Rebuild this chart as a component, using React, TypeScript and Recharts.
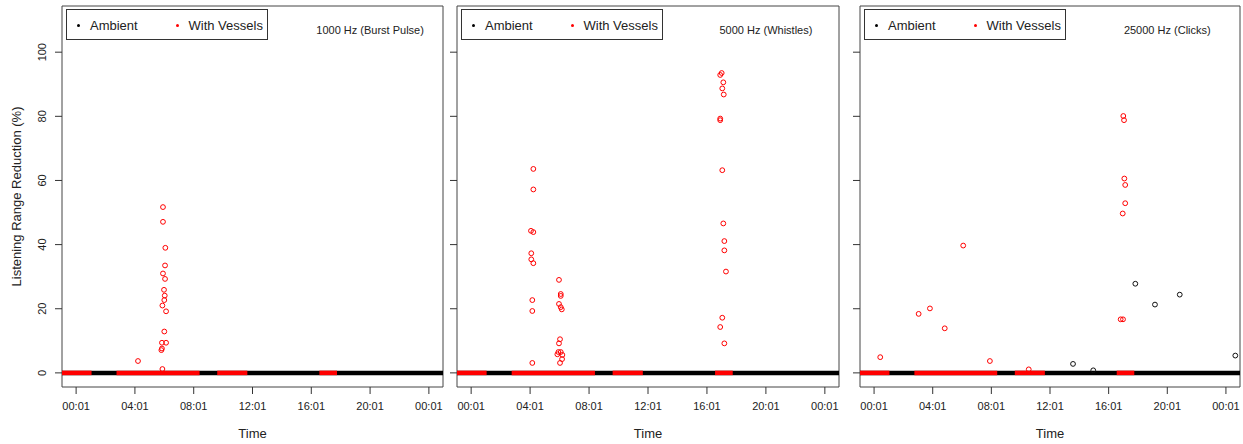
import {
  ComposedChart,
  Legend,
  ReferenceArea,
  ReferenceDot,
  ReferenceLine,
  Scatter,
  XAxis,
  YAxis,
} from "recharts";

const FONT = "'Liberation Sans', Arial, sans-serif";

const xTicks = [0, 4, 8, 12, 16, 20, 24];
const xTickLabels = ["00:01", "04:01", "08:01", "12:01", "16:01", "20:01", "00:01"];
const yTicks = [0, 20, 40, 60, 80, 100];
const xDomain: [number, number] = [-0.96, 24.96];
const yDomain: [number, number] = [-4.4, 114.4];

const seriesNames = ["Ambient", "With Vessels"];
const seriesColors = ["#000000", "#ff0000"];
const panelTitles = ["1000 Hz (Burst Pulse)", "5000 Hz (Whistles)", "25000 Hz (Clicks)"];
const titleAt = [20, 107];

// hours after 00:01 when vessels were present (red on the zero line)
const vesselPeriods = [
  [-0.96, 1.05],
  [2.75, 8.4],
  [9.6, 11.65],
  [16.55, 17.75],
];

// [hour, % reduction]
const burstAmbient: number[][] = [];
const burstVessels = [
  [5.91, 51.7], [5.91, 47.1], [6.07, 39.0], [6.05, 33.5], [5.91, 31.0],
  [6.05, 29.3], [5.98, 25.9], [6.03, 24.1], [6.0, 22.7], [5.87, 21.0],
  [6.12, 19.2], [6.0, 12.9], [5.84, 9.4], [6.12, 9.4], [5.8, 7.1],
  [5.84, 7.6], [4.21, 3.7], [5.87, 1.2],
];

const whistleAmbient: number[][] = [];
const whistleVessels = [
  [17.0, 93.5], [16.9, 92.9], [17.11, 90.6], [17.04, 88.7], [17.14, 86.8],
  [16.9, 79.3], [16.9, 78.8], [4.22, 63.6], [17.04, 63.2], [4.22, 57.2],
  [4.06, 44.3], [4.22, 43.9], [17.11, 46.6], [17.18, 41.1], [17.18, 38.2],
  [4.08, 37.3], [4.08, 35.4], [4.22, 34.2], [17.29, 31.6], [5.96, 29.0],
  [6.08, 24.6], [6.08, 24.0], [4.15, 22.7], [5.96, 21.5], [6.08, 20.5],
  [6.15, 19.8], [4.15, 19.3], [17.04, 17.2], [16.9, 14.3], [17.18, 9.2],
  [6.03, 10.5], [5.96, 9.2], [5.92, 6.5], [6.08, 6.5], [5.85, 5.8],
  [6.19, 5.6], [6.17, 4.3], [6.03, 3.1], [4.15, 3.1],
];

const clickAmbient = [
  [13.57, 2.8], [14.95, 0.8], [17.82, 27.8], [19.16, 21.3], [20.85, 24.4], [24.64, 5.4],
];
const clickVessels = [
  [0.42, 4.9], [3.04, 18.4], [3.81, 20.1], [4.82, 13.9], [6.08, 39.7],
  [7.9, 3.7], [10.55, 1.1], [16.82, 16.7], [16.98, 16.7], [17.0, 80.1],
  [17.05, 78.8], [17.07, 60.6], [17.13, 58.6], [17.13, 52.9], [16.96, 49.7],
];

const toPoints = (rows: number[][]) => rows.map(([t, v]) => ({ t, v }));

const circle = (color: string) => (p: any) =>
  p.cx == null ? <g /> : (
    <circle cx={p.cx} cy={p.cy} r={2.4} fill="none" stroke={color} strokeWidth={1} />
  );

const YTick = (p: any) => (
  <text
    x={p.x}
    y={p.y}
    transform={`rotate(-90, ${p.x}, ${p.y})`}
    textAnchor="middle"
    fontSize={11}
    fill="#222"
    fontFamily={FONT}
  >
    {p.payload.value}
  </text>
);

const LegendBox = (props: any) => {
  const items = (props.payload && props.payload.length ? props.payload : seriesNames.map((n, i) => ({ value: n, color: seriesColors[i] })));
  return (
    <div
      style={{
        width: 200,
        height: 29,
        border: "1px solid #333",
        background: "#fff",
        position: "relative",
        fontFamily: FONT,
        fontSize: 13,
        color: "#222",
      }}
    >
      {items.map((it: any, i: number) => (
        <div
          key={i}
          style={{ position: "absolute", left: 10 + i * 98.5, top: 1, height: 29, display: "flex", alignItems: "center" }}
        >
          <span style={{ width: 3, height: 3, borderRadius: 2, background: it.color, display: "inline-block" }} />
          <span style={{ marginLeft: 10 }}>{it.value}</span>
        </div>
      ))}
    </div>
  );
};

type PanelProps = {
  title: string;
  ambient: number[][];
  vessels: number[][];
  boxLeft: number;
  boxRight: number;
  first: boolean;
};

function Panel({ title, ambient, vessels, boxLeft, boxRight, first }: PanelProps) {
  const marginRight = 3;
  const width = boxRight - boxLeft + 62 + marginRight;
  return (
    <div style={{ position: "absolute", left: boxLeft - 62, top: 0 }}>
      <ComposedChart
        width={width}
        height={444}
        margin={{ top: 6, right: marginRight, bottom: 12, left: 7 }}
      >
        <XAxis
          type="number"
          dataKey="t"
          domain={xDomain}
          ticks={xTicks}
          interval={0}
          allowDataOverflow
          axisLine={false}
          tickLine={{ stroke: "#333" }}
          tickSize={7}
          tickMargin={8}
          height={45}
          tick={{ fontSize: 11, fill: "#222", fontFamily: FONT }}
          tickFormatter={(v: number) => xTickLabels[xTicks.indexOf(v)]}
          label={{
            content: (p: any) => {
              const vb = p.viewBox || { x: boxLeft, y: 387, width: boxRight - boxLeft };
              return (
                <text x={vb.x + vb.width / 2} y={vb.y + 51} textAnchor="middle" fontSize={13} fill="#222" fontFamily={FONT}>
                  Time
                </text>
              );
            },
          }}
        />
        <YAxis
          type="number"
          dataKey="v"
          domain={yDomain}
          ticks={yTicks}
          allowDataOverflow
          axisLine={false}
          tickLine={{ stroke: "#333" }}
          tickSize={7}
          tickMargin={9}
          width={55}
          tick={first ? YTick : () => <g />}
          label={
            first
              ? {
                  content: (p: any) => {
                    const vb = p.viewBox || { x: 7, y: 6, width: 55, height: 381 };
                    const x = vb.x + 14;
                    const y = vb.y + vb.height / 2;
                    return (
                      <text
                        x={x}
                        y={y}
                        transform={`rotate(-90, ${x}, ${y})`}
                        textAnchor="middle"
                        fontSize={13}
                        fill="#222"
                        fontFamily={FONT}
                      >
                        Listening Range Reduction (%)
                      </text>
                    );
                  },
                }
              : undefined
          }
        />
        <ReferenceArea
          x1={xDomain[0]}
          x2={xDomain[1]}
          y1={yDomain[0]}
          y2={yDomain[1]}
          fill="none"
          stroke="#444"
          strokeWidth={1}
          ifOverflow="visible"
        />
        <ReferenceLine y={0} stroke="#000" strokeWidth={4.5} />
        {vesselPeriods.map(([a, b], i) => (
          <ReferenceLine
            key={i}
            segment={[
              { x: a, y: 0 },
              { x: b, y: 0 },
            ]}
            stroke="#ff0000"
            strokeWidth={4.5}
            ifOverflow="visible"
          />
        ))}
        <Scatter
          name={seriesNames[0]}
          data={toPoints(ambient)}
          fill={seriesColors[0]}
          shape={circle("#111")}
          isAnimationActive={false}
        />
        <Scatter
          name={seriesNames[1]}
          data={toPoints(vessels)}
          fill={seriesColors[1]}
          shape={circle("#ff0000")}
          isAnimationActive={false}
        />
        <ReferenceDot
          x={titleAt[0]}
          y={titleAt[1]}
          r={0}
          fill="none"
          stroke="none"
          label={{ value: title, position: "center", fontSize: 11, fill: "#222", fontFamily: FONT }}
        />
        <Legend
          layout="horizontal"
          verticalAlign="middle"
          align="center"
          wrapperStyle={{ left: 66, top: 9, width: 202, height: 31 }}
          content={<LegendBox />}
        />
      </ComposedChart>
    </div>
  );
}

export default function App() {
  return (
    <div
      style={{
        position: "fixed",
        left: 0,
        top: 0,
        width: 1243,
        height: 444,
        background: "#fff",
        overflow: "hidden",
      }}
    >
      <Panel title={panelTitles[0]} ambient={burstAmbient} vessels={burstVessels} boxLeft={62} boxRight={443} first />
      <Panel title={panelTitles[1]} ambient={whistleAmbient} vessels={whistleVessels} boxLeft={457} boxRight={839} first={false} />
      <Panel title={panelTitles[2]} ambient={clickAmbient} vessels={clickVessels} boxLeft={860} boxRight={1240} first={false} />
    </div>
  );
}
